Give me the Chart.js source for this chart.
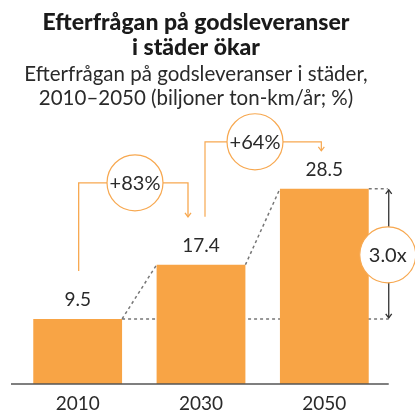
<!DOCTYPE html>
<html>
<head>
<meta charset="utf-8">
<script src="https://cdn.jsdelivr.net/npm/chart.js@4"></script>
<style>
  html, body { margin: 0; padding: 0; background: #fff; }
  canvas { display: block; }
</style>
</head>
<body>
<canvas id="chart" width="415" height="414"></canvas>
<script>
const ar = ['2010', '2030', '2050'];
const efterfragan = [9.5, 17.4, 28.5];
const tillvaxt = ['+83%', '+64%'];
const faktor = '3.0x';
const titel = ['Efterfrågan på godsleveranser', 'i städer ökar'];
const undertitel = ['Efterfrågan på godsleveranser i städer,', '2010–2050 (biljoner ton-km/år; %)'];

const orange = '#F8A445';
const ringFarg = '#F7A850';
const textFarg = '#2a2a2a';

function cirkel(ctx, x, y, r, text) {
    ctx.beginPath();
    ctx.arc(x, y, r, 0, Math.PI * 2);
    ctx.fillStyle = '#fff';
    ctx.fill();
    ctx.lineWidth = 1.2;
    ctx.strokeStyle = ringFarg;
    ctx.stroke();
    ctx.fillStyle = textFarg;
    ctx.font = '20px Lato';
    ctx.textAlign = 'center';
    ctx.textBaseline = 'middle';
    ctx.fillText(text, x, y + 1);
}

function pil(ctx, x, y, riktning) { // riktning 1 = nedåt, -1 = uppåt
    ctx.beginPath();
    ctx.moveTo(x - 3, y - 4 * riktning);
    ctx.lineTo(x, y);
    ctx.lineTo(x + 3, y - 4 * riktning);
    ctx.stroke();
}

const dekor = {
    id: 'dekor',
    beforeDatasetsDraw(chart) {
        const ctx = chart.ctx;
        const b = chart.getDatasetMeta(0).data;
        const hoger = i => b[i].x + b[i].width / 2;
        const vanster = i => b[i].x - b[i].width / 2;
        ctx.save();
        ctx.strokeStyle = '#777';
        ctx.lineWidth = 1.5;
        ctx.setLineDash([3, 3]);
        ctx.beginPath();
        ctx.moveTo(hoger(0), b[0].y);
        ctx.lineTo(hoger(2) + 20, b[0].y);
        ctx.moveTo(hoger(0), b[0].y);
        ctx.lineTo(vanster(1), b[1].y);
        ctx.moveTo(hoger(1), b[1].y);
        ctx.lineTo(vanster(2), b[2].y);
        ctx.moveTo(hoger(2), b[2].y);
        ctx.lineTo(hoger(2) + 19, b[2].y);
        ctx.stroke();
        ctx.restore();
    },
    afterDatasetsDraw(chart) {
        const ctx = chart.ctx;
        const b = chart.getDatasetMeta(0).data;
        const hoger = i => b[i].x + b[i].width / 2;
        const mitt = 196;
        ctx.save();

        // rubriker
        ctx.fillStyle = '#1a1a1a';
        ctx.textAlign = 'center';
        ctx.textBaseline = 'middle';
        ctx.font = '900 23px Lato';
        titel.forEach((t, i) => ctx.fillText(t, mitt, 23 + i * 25));
        ctx.fillStyle = textFarg;
        ctx.font = '20.5px Lato';
        undertitel.forEach((t, i) => ctx.fillText(t, mitt, 74 + i * 24));

        // värden
        ctx.font = '19px Lato';
        b.forEach((bar, i) => ctx.fillText(efterfragan[i].toFixed(1), bar.x, bar.y - 19));

        // tillväxtpilar
        ctx.strokeStyle = ringFarg;
        ctx.lineWidth = 1.3;
        const kopplingar = [
            { fran: 0, till: 1, start: b[0].y - 48, niva: b[1].y - 82, slut: b[1].y - 48, dx1: 1, dx2: -13, cx: 135 },
            { fran: 1, till: 2, start: b[1].y - 48, niva: b[2].y - 47, slut: b[2].y - 38, dx1: 4, dx2: -3, cx: 255 }
        ];
        kopplingar.forEach((k, i) => {
            const x1 = b[k.fran].x + k.dx1;
            const x2 = b[k.till].x + k.dx2;
            ctx.beginPath();
            ctx.moveTo(x1, k.start);
            ctx.lineTo(x1, k.niva);
            ctx.lineTo(x2, k.niva);
            ctx.lineTo(x2, k.slut);
            ctx.stroke();
            pil(ctx, x2, k.slut, 1);
            cirkel(ctx, k.cx, k.niva, 28, tillvaxt[i]);
        });

        // 3.0x-pil
        const xp = hoger(2) + 20;
        ctx.strokeStyle = '#333';
        ctx.lineWidth = 1.3;
        ctx.beginPath();
        ctx.moveTo(xp, b[2].y + 1);
        ctx.lineTo(xp, b[0].y - 1);
        ctx.stroke();
        pil(ctx, xp, b[2].y + 1, -1);
        pil(ctx, xp, b[0].y - 1, 1);
        cirkel(ctx, xp - 1, (b[2].y + b[0].y) / 2 + 1, 28, faktor);

        // x-axel
        const y0 = chart.scales.y.getPixelForValue(0);
        ctx.strokeStyle = '#555';
        ctx.lineWidth = 1.5;
        ctx.beginPath();
        ctx.moveTo(11, y0);
        ctx.lineTo(xp, y0);
        ctx.stroke();
        ctx.restore();
    }
};

new Chart(document.getElementById('chart'), {
    type: 'bar',
    data: {
        labels: ar,
        datasets: [{
            data: efterfragan,
            backgroundColor: orange,
            barPercentage: 0.72,
            categoryPercentage: 1
        }]
    },
    options: {
        responsive: false,
        animation: false,
        devicePixelRatio: 1,
        layout: { padding: { top: 110, left: 16, right: 29, bottom: 0 } },
        plugins: { legend: { display: false }, tooltip: { enabled: false } },
        scales: {
            y: { display: false, min: 0, max: 40 },
            x: {
                grid: { display: false, drawTicks: false },
                border: { display: false },
                ticks: { color: textFarg, font: { family: 'Lato', size: 19 }, padding: 8 },
                afterFit(scale) { scale.height = 30; }
            }
        }
    },
    plugins: [dekor]
});
</script>
</body>
</html>
